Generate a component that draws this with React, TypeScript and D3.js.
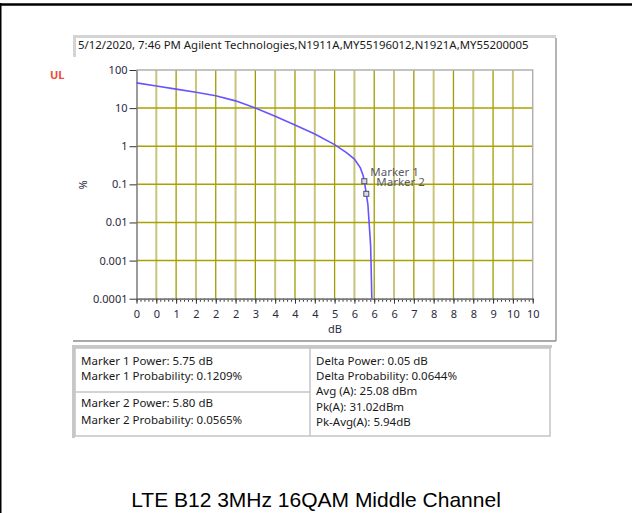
import React, { useRef, useEffect } from "react";
import * as d3 from "d3";

// CCDF trace
const powerDb = [0, 0.5, 1.0, 1.5, 2.0, 2.5, 3.0, 3.5, 4.0, 4.5, 5.0, 5.3, 5.5, 5.65, 5.72, 5.75, 5.8, 5.84, 5.88, 5.91, 5.94];
const probabilityPct = [46, 38, 31.5, 26, 21, 15.5, 10, 6.1, 3.6, 2.1, 1.1, 0.68, 0.46, 0.27, 0.17, 0.1209, 0.0565, 0.03, 0.0072, 0.0024, 0.0001];

const markerNames = ["Marker 1", "Marker 2"];
const markerDb = [5.75, 5.8];
const markerPct = [0.1209, 0.0565];

const yTickValues = [100, 10, 1, 0.1, 0.01, 0.001, 0.0001];
const yTickLabels = ["100", "10", "1", "0.1", "0.01", "0.001", "0.0001"];
const xTickValues = [0, 0.5, 1, 1.5, 2, 2.5, 3, 3.5, 4, 4.5, 5, 5.5, 6, 6.5, 7, 7.5, 8, 8.5, 9, 9.5, 10];
const xTickLabels = ["0", "0", "1", "2", "2", "2", "3", "4", "4", "4", "5", "6", "6", "6", "7", "8", "8", "8", "9", "10", "10"];

const headerText = "5/12/2020, 7:46 PM  Agilent Technologies,N1911A,MY55196012,N1921A,MY55200005";
const markerTableTop = ["Marker 1 Power: 5.75 dB", "Marker 1 Probability: 0.1209%"];
const markerTableBottom = ["Marker 2 Power: 5.80 dB", "Marker 2 Probability: 0.0565%"];
const summaryLines = ["Delta Power: 0.05 dB", "Delta Probability: 0.0644%", "Avg (A): 25.08 dBm", "Pk(A): 31.02dBm", "Pk-Avg(A): 5.94dB"];
const caption = "LTE B12 3MHz 16QAM Middle Channel";

const W = 632;
const H = 513;
const FONT = "'Noto Sans', 'Open Sans', sans-serif";

const CcdfPlot = () => {
  const svgRef = useRef<SVGSVGElement>(null);

  useEffect(() => {
    const svg = d3.select(svgRef.current);
    const left = 136.5, right = 532.7, top = 70, bottom = 298.7;

    const xScale = d3.scaleLinear().domain([0, 10]).range([left, right]);
    const yScale = d3.scaleLog().domain([0.0001, 100]).range([bottom, top]);

    const grid = svg.select(".grid");
    grid.selectAll(".vgrid")
      .data(xTickValues.filter(v => v > 0 && v < 10))
      .join("line")
      .attr("class", "vgrid")
      .attr("x1", d => xScale(d)).attr("x2", d => xScale(d))
      .attr("y1", top).attr("y2", bottom)
      .attr("stroke", d => (d % 1 === 0 ? "#a09c00" : "#c9c47a"))
      .attr("stroke-width", d => (d % 1 === 0 ? 1.3 : 2));
    grid.selectAll(".hgrid")
      .data(yTickValues.filter(v => v > 0.0001 && v < 100))
      .join("line")
      .attr("class", "hgrid")
      .attr("x1", left).attr("x2", right)
      .attr("y1", d => yScale(d)).attr("y2", d => yScale(d))
      .attr("stroke", "#a8a300")
      .attr("stroke-width", 1.5);

    // plot border: top and right
    grid.selectAll(".border").data([0]).join("path")
      .attr("class", "border")
      .attr("d", `M${left},${top}H${right}V${bottom}`)
      .attr("fill", "none")
      .attr("stroke", "#b0b0b0")
      .attr("stroke-width", 1.5);

    const yAxis = d3.axisLeft(yScale)
      .tickValues(yTickValues)
      .tickFormat((d, i) => yTickLabels[i])
      .tickSize(7)
      .tickSizeOuter(0)
      .tickPadding(2);
    svg.select<SVGGElement>(".y-axis")
      .attr("transform", `translate(${left},0)`)
      .call(yAxis);

    const minor = d3.range(0, 100.5, 1).map(v => v / 10);
    const xMinor = d3.axisBottom(xScale).tickValues(minor).tickSize(3).tickFormat(() => "").tickSizeOuter(0);
    svg.select<SVGGElement>(".x-minor")
      .attr("transform", `translate(0,${bottom})`)
      .call(xMinor);

    const xAxis = d3.axisBottom(xScale)
      .tickValues(xTickValues)
      .tickFormat((d, i) => xTickLabels[i])
      .tickSize(5)
      .tickSizeOuter(0)
      .tickPadding(7);
    svg.select<SVGGElement>(".x-axis")
      .attr("transform", `translate(0,${bottom})`)
      .call(xAxis);

    svg.selectAll(".y-axis, .x-axis, .x-minor")
      .attr("font-family", FONT)
      .attr("font-size", 11);
    svg.selectAll(".y-axis .domain, .x-axis .domain, .x-minor .domain")
      .attr("stroke", "#7a7a7a").attr("stroke-width", 1.5);
    svg.selectAll(".tick line").attr("stroke", "#333");
    svg.selectAll(".tick text").attr("fill", "#2a2a40");

    const line = d3.line<number>()
      .x((d, i) => xScale(powerDb[i]))
      .y(d => yScale(d));
    svg.select(".trace")
      .datum(probabilityPct)
      .attr("d", line)
      .attr("fill", "none")
      .attr("stroke", "#6655ff")
      .attr("stroke-width", 1.6);

    const markers = svg.select(".markers");
    markers.selectAll("rect")
      .data(markerDb)
      .join("rect")
      .attr("x", (d) => xScale(d) - 2.5)
      .attr("y", (d, i) => yScale(markerPct[i]) - 2.5)
      .attr("width", 5).attr("height", 5)
      .attr("fill", "#d8d8f0")
      .attr("stroke", "#505060")
      .attr("stroke-width", 1);
    markers.selectAll("text")
      .data(markerNames)
      .join("text")
      .attr("x", (d, i) => xScale(markerDb[i]) + (i === 0 ? 6 : 10))
      .attr("y", (d, i) => (i === 0 ? yScale(markerPct[0]) - 5 : yScale(markerPct[0]) + 5))
      .attr("font-family", FONT)
      .attr("font-size", 11.5)
      .attr("fill", "#5a5a6a")
      .text(d => d);
  }, []);

  return (
    <svg ref={svgRef} width={W} height={H} style={{ display: "block" }}>
      <rect width={W} height={H} fill="#fff" />
      {/* outer frame */}
      <line x1={0} x2={W} y1={4.5} y2={4.5} stroke="#000" strokeWidth={2.5} />
      <line x1={0.75} x2={0.75} y1={3} y2={H} stroke="#000" strokeWidth={1.5} />

      {/* panel */}
      <rect x={73} y={35} width={483} height={3} fill="#d4d4d4" />
      <rect x={73} y={35} width={3} height={22} fill="#d4d4d4" />
      <line x1={556} x2={556} y1={38} y2={341} stroke="#8c8c8c" strokeWidth={1.3} />
      <line x1={73} x2={556} y1={341} y2={341} stroke="#8c8c8c" strokeWidth={1.3} />
      <text x={78} y={49} fontFamily={FONT} fontSize={11.4} fill="#1a1a1a">{headerText}</text>

      <text x={50} y={79} fontFamily={FONT} fontSize={11} fontWeight="bold" fill="#f04a3a">UL</text>
      <text transform="translate(87,185) rotate(-90)" textAnchor="middle" fontFamily={FONT} fontSize={11} fill="#2a2a40">%</text>
      <text x={335} y={333} textAnchor="middle" fontFamily={FONT} fontSize={11} fill="#2a2a40">dB</text>

      <g className="grid" />
      <g className="x-minor" />
      <g className="x-axis" />
      <g className="y-axis" />
      <path className="trace" />
      <g className="markers" />

      {/* marker table */}
      <rect x={72} y={345} width={480} height={3} fill="#c8c8c8" />
      <rect x={72} y={345} width={3} height={93} fill="#c8c8c8" />
      <rect x={75} y={348} width={475} height={88} fill="#fff" stroke="#c4c4c4" strokeWidth={1.5} />
      <line x1={310} x2={310} y1={348} y2={436} stroke="#c4c4c4" strokeWidth={1.5} />
      <line x1={75} x2={310} y1={392} y2={392} stroke="#c4c4c4" strokeWidth={1.5} />
      {markerTableTop.map((t, i) => (
        <text key={t} x={81} y={365 + i * 14.5} fontFamily={FONT} fontSize={11.5} fill="#1a1a1a">{t}</text>
      ))}
      {markerTableBottom.map((t, i) => (
        <text key={t} x={81} y={407 + i * 17} fontFamily={FONT} fontSize={11.5} fill="#1a1a1a">{t}</text>
      ))}
      {summaryLines.map((t, i) => (
        <text key={t} x={316} y={365 + i * 15.2} fontFamily={FONT} fontSize={11.5} fill="#1a1a1a">{t}</text>
      ))}

      <text x={316} y={507} textAnchor="middle" fontFamily="Liberation Sans, Arimo, Arial, sans-serif" fontSize={21} fill="#000">{caption}</text>
    </svg>
  );
};

export default function App() {
  return (
    <div style={{ position: "absolute", left: 0, top: 0 }}>
      <CcdfPlot />
    </div>
  );
}
